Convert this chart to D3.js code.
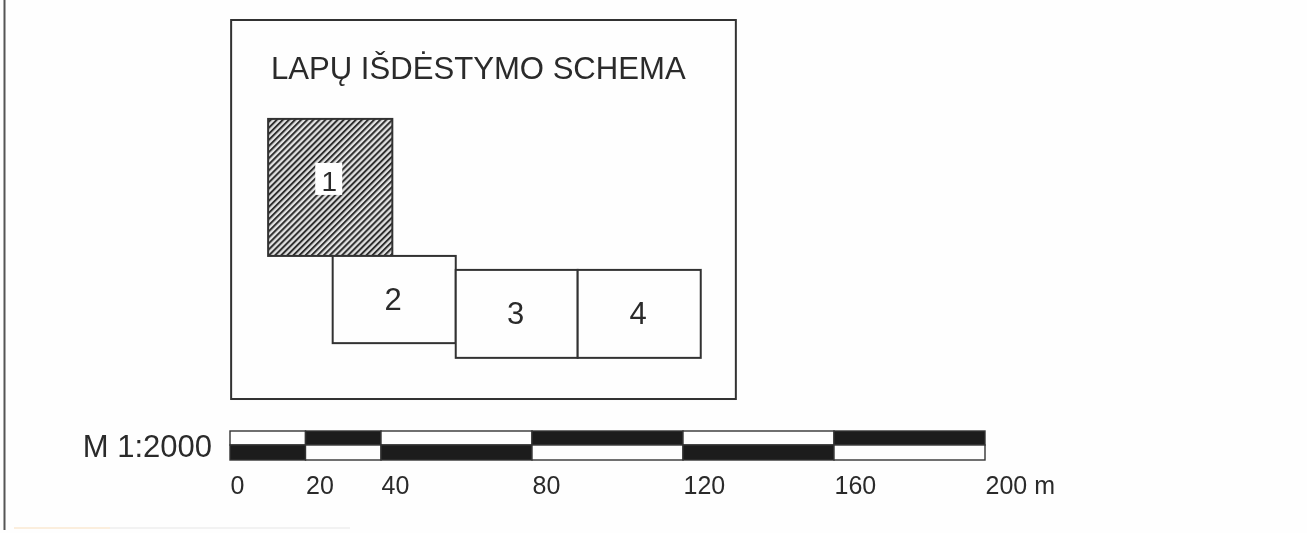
<!DOCTYPE html>
<html>
<head>
<meta charset="utf-8">
<script src="https://cdn.jsdelivr.net/npm/d3@7"></script>
<style>
html, body { margin: 0; padding: 0; background: #fefefe; overflow: hidden; }
text { font-family: "Liberation Sans", Arial, sans-serif; fill: #2b2b2b; }
.axis path, .axis line { display: none; }
</style>
</head>
<body>
<svg id="chart" width="1307" height="533"></svg>
<script>
const title = 'LAPŲ IŠDĖSTYMO SCHEMA';
const scaleLabel = 'M 1:2000';
const unit = ' m';

// bar stops in metres
const barStops = [0, 20, 40, 80, 120, 160, 200];

// sheets, read in metres on the same scale as the bar
const sheetNames = ['1', '2', '3', '4'];
const sheetWest = [10.1, 27.2, 59.8, 92.1];
const sheetEast = [43, 59.8, 92.1, 124.7];
const sheetNorth = [26.2, 62.5, 66.2, 66.2];
const sheetSouth = [62.5, 85.6, 89.5, 89.5];

const svg = d3.select('#chart');
const x = d3.scaleLinear().domain([0, 200]).range([230, 985]);
const y = d3.scaleLinear().domain([0, 100]).range([20, 397.5]);

const defs = svg.append('defs');
defs.append('filter')
    .attr('id', 'scan')
    .append('feGaussianBlur')
    .attr('stdDeviation', 0.6);
const hatch = defs.append('pattern')
    .attr('id', 'hatch')
    .attr('patternUnits', 'userSpaceOnUse')
    .attr('width', 4.3)
    .attr('height', 4.3)
    .attr('patternTransform', 'rotate(45)');
hatch.append('rect')
    .attr('width', 4.3)
    .attr('height', 4.3)
    .attr('fill', '#e2e2e2');
hatch.append('rect')
    .attr('width', 2)
    .attr('height', 4.3)
    .attr('fill', '#2e2e2e');

const page = svg.append('g').attr('filter', 'url(#scan)');

// page edge on the left
page.append('path')
    .attr('d', d3.line()([[4.5, 0], [4.5, 530]]))
    .attr('stroke', '#555')
    .attr('stroke-width', 2)
    .attr('fill', 'none');

// scanner smudge along the bottom
page.append('path')
    .attr('d', d3.line()([[14, 528], [110, 528]]))
    .attr('stroke', '#fbeedd')
    .attr('stroke-width', 2);
page.append('path')
    .attr('d', d3.line()([[110, 528], [350, 528]]))
    .attr('stroke', '#eeeeee')
    .attr('stroke-width', 1.5);

// key map frame
page.append('rect')
    .attr('x', x(0.3))
    .attr('y', y(0))
    .attr('width', x(134) - x(0.3))
    .attr('height', y(100.4) - y(0))
    .attr('fill', 'none')
    .attr('stroke', '#333')
    .attr('stroke-width', 2);

page.append('text')
    .attr('x', 271)
    .attr('y', 79)
    .attr('font-size', 31.1)
    .text(title);

// sheets
const sheets = page.selectAll('.sheet')
    .data(sheetNames)
    .enter()
    .append('g')
    .attr('class', 'sheet');

sheets.append('rect')
    .attr('x', (d, i) => x(sheetWest[i]))
    .attr('y', (d, i) => y(sheetNorth[i]))
    .attr('width', (d, i) => x(sheetEast[i]) - x(sheetWest[i]))
    .attr('height', (d, i) => y(sheetSouth[i]) - y(sheetNorth[i]))
    .attr('fill', (d, i) => i === 0 ? 'url(#hatch)' : '#fefefe')
    .attr('stroke', '#333')
    .attr('stroke-width', 2);

// white plate behind the number of the highlighted sheet
sheets.filter((d, i) => i === 0)
    .append('rect')
    .attr('x', (d, i) => (x(sheetWest[i]) + x(sheetEast[i])) / 2 - 15)
    .attr('y', (d, i) => (y(sheetNorth[i]) + y(sheetSouth[i])) / 2 - 24.5)
    .attr('width', 27)
    .attr('height', 32)
    .attr('fill', '#fff');

sheets.append('text')
    .attr('x', (d, i) => (x(sheetWest[i]) + x(sheetEast[i])) / 2 - 1)
    .attr('y', (d, i) => (y(sheetNorth[i]) + y(sheetSouth[i])) / 2 + (i === 0 ? 3.5 : 10))
    .attr('text-anchor', 'middle')
    .attr('font-size', (d, i) => i === 0 ? 28 : 31)
    .text(d => d);

// scale bar: two rows with alternating segments
const segments = d3.pairs(barStops);
const barRows = [
    { top: 431, h: 14, offset: 0 },
    { top: 445, h: 15, offset: 1 }
];
barRows.forEach(row => {
    page.selectAll(null)
        .data(segments)
        .enter()
        .append('rect')
        .attr('x', d => x(d[0]))
        .attr('y', row.top)
        .attr('width', d => x(d[1]) - x(d[0]))
        .attr('height', row.h)
        .attr('fill', (d, i) => (i + row.offset) % 2 ? '#1c1c1c' : '#fefefe')
        .attr('stroke', '#333')
        .attr('stroke-width', 1.4);
});

page.append('text')
    .attr('x', 212)
    .attr('y', 457)
    .attr('text-anchor', 'end')
    .attr('font-size', 31)
    .text(scaleLabel);

const axis = page.append('g')
    .attr('class', 'axis')
    .attr('transform', 'translate(0,476.5)')
    .call(d3.axisBottom(x)
        .tickValues(barStops)
        .tickSize(0)
        .tickPadding(0)
        .tickFormat(d => d === 200 ? d + unit : d));
axis.selectAll('text')
    .attr('text-anchor', 'start')
    .attr('font-size', 25)
    .attr('fill', '#2b2b2b')
    .style('font-family', '"Liberation Sans", Arial, sans-serif')
    .attr('dx', 0);
</script>
</body>
</html>
